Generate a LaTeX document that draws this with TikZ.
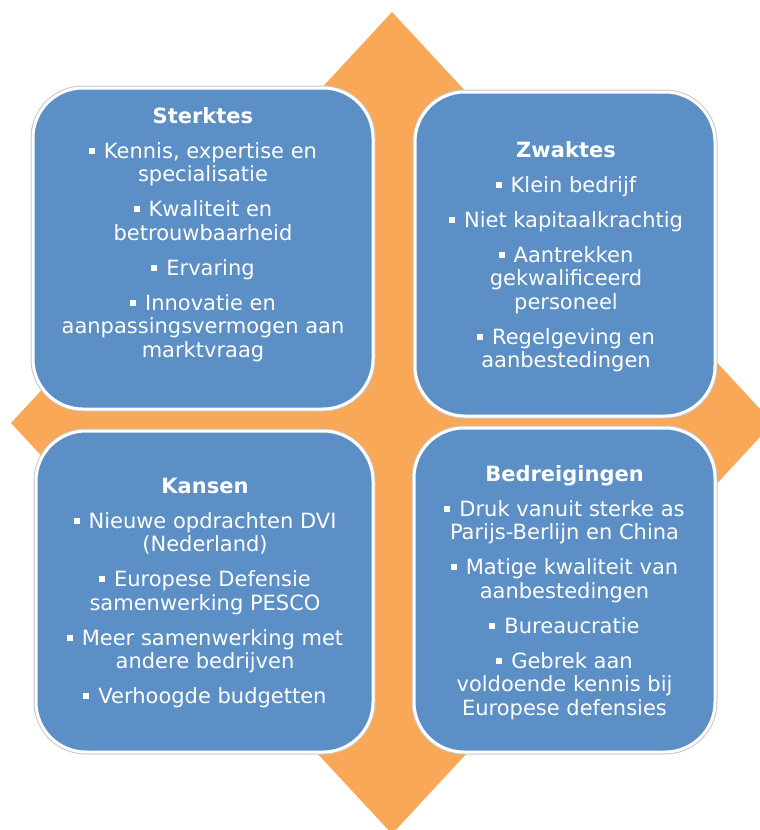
\documentclass[tikz,border=0pt]{standalone}
\usepackage{fontspec}
\setmainfont{DejaVu Sans}
\definecolor{orng}{HTML}{F9A857}
\definecolor{boxblue}{HTML}{5B8FC5}
\newcommand{\bul}{\rule[4.5pt]{6pt}{6pt}\hspace{9pt}}
\tikzset{
  swotbox/.style={draw=white, line width=3pt, fill=boxblue, rounded corners=50pt,
    preaction={draw=black!22, line width=5pt}, inner sep=0pt},
  swottext/.style={text=white, align=center, font=\fontsize{21}{23.5}\selectfont,
    inner sep=0pt, anchor=north},
}
\begin{document}
\begin{tikzpicture}[x=1pt,y=-1pt]
\useasboundingbox (0,0) rectangle (760,830);
\clip (0,0) rectangle (760,830);
\fill[orng] (392,12) -- (773,423) -- (392,834) -- (11,423) -- cycle;

\node[swotbox, minimum width=340pt, minimum height=321pt] (S) at (203,248.5) {};
\node[swotbox, minimum width=300pt, minimum height=324pt] (W) at (565,254) {};
\node[swotbox, minimum width=337pt, minimum height=321pt] (O) at (204.5,591.5) {};
\node[swotbox, minimum width=301pt, minimum height=324pt] (T) at (564.5,590) {};

\node[swottext] (St) at (203,106.5) {\strut\textbf{Sterktes}\\[11.5pt]
\bul Kennis, expertise en\\ specialisatie\\[11.5pt]
\bul Kwaliteit en\\ betrouwbaarheid\\[11.5pt]
\bul Ervaring\\[11.5pt]
\bul Innovatie en\\ aanpassingsvermogen aan\\ marktvraag};

\node[swottext] (Wt) at (566,140.5) {\strut\textbf{Zwaktes}\\[11.5pt]
\bul Klein bedrijf\\[11.5pt]
\bul Niet kapitaalkrachtig\\[11.5pt]
\bul Aantrekken\\ gekwalificeerd\\ personeel\\[11.5pt]
\bul Regelgeving en\\ aanbestedingen};

\node[swottext] (Ot) at (205,476.5) {\strut\textbf{Kansen}\\[11.5pt]
\bul Nieuwe opdrachten DVI\\ (Nederland)\\[11.5pt]
\bul Europese Defensie\\ samenwerking PESCO\\[11.5pt]
\bul Meer samenwerking met\\ andere bedrijven\\[11.5pt]
\bul Verhoogde budgetten};

\node[swottext] (Tt) at (564.5,464.5) {\strut\textbf{Bedreigingen}\\[11.5pt]
\bul Druk vanuit sterke as\\ Parijs-Berlijn en China\\[11.5pt]
\bul Matige kwaliteit van\\ aanbestedingen\\[11.5pt]
\bul Bureaucratie\\[11.5pt]
\bul Gebrek aan\\ voldoende kennis bij\\ Europese defensies};
\end{tikzpicture}
\end{document}
